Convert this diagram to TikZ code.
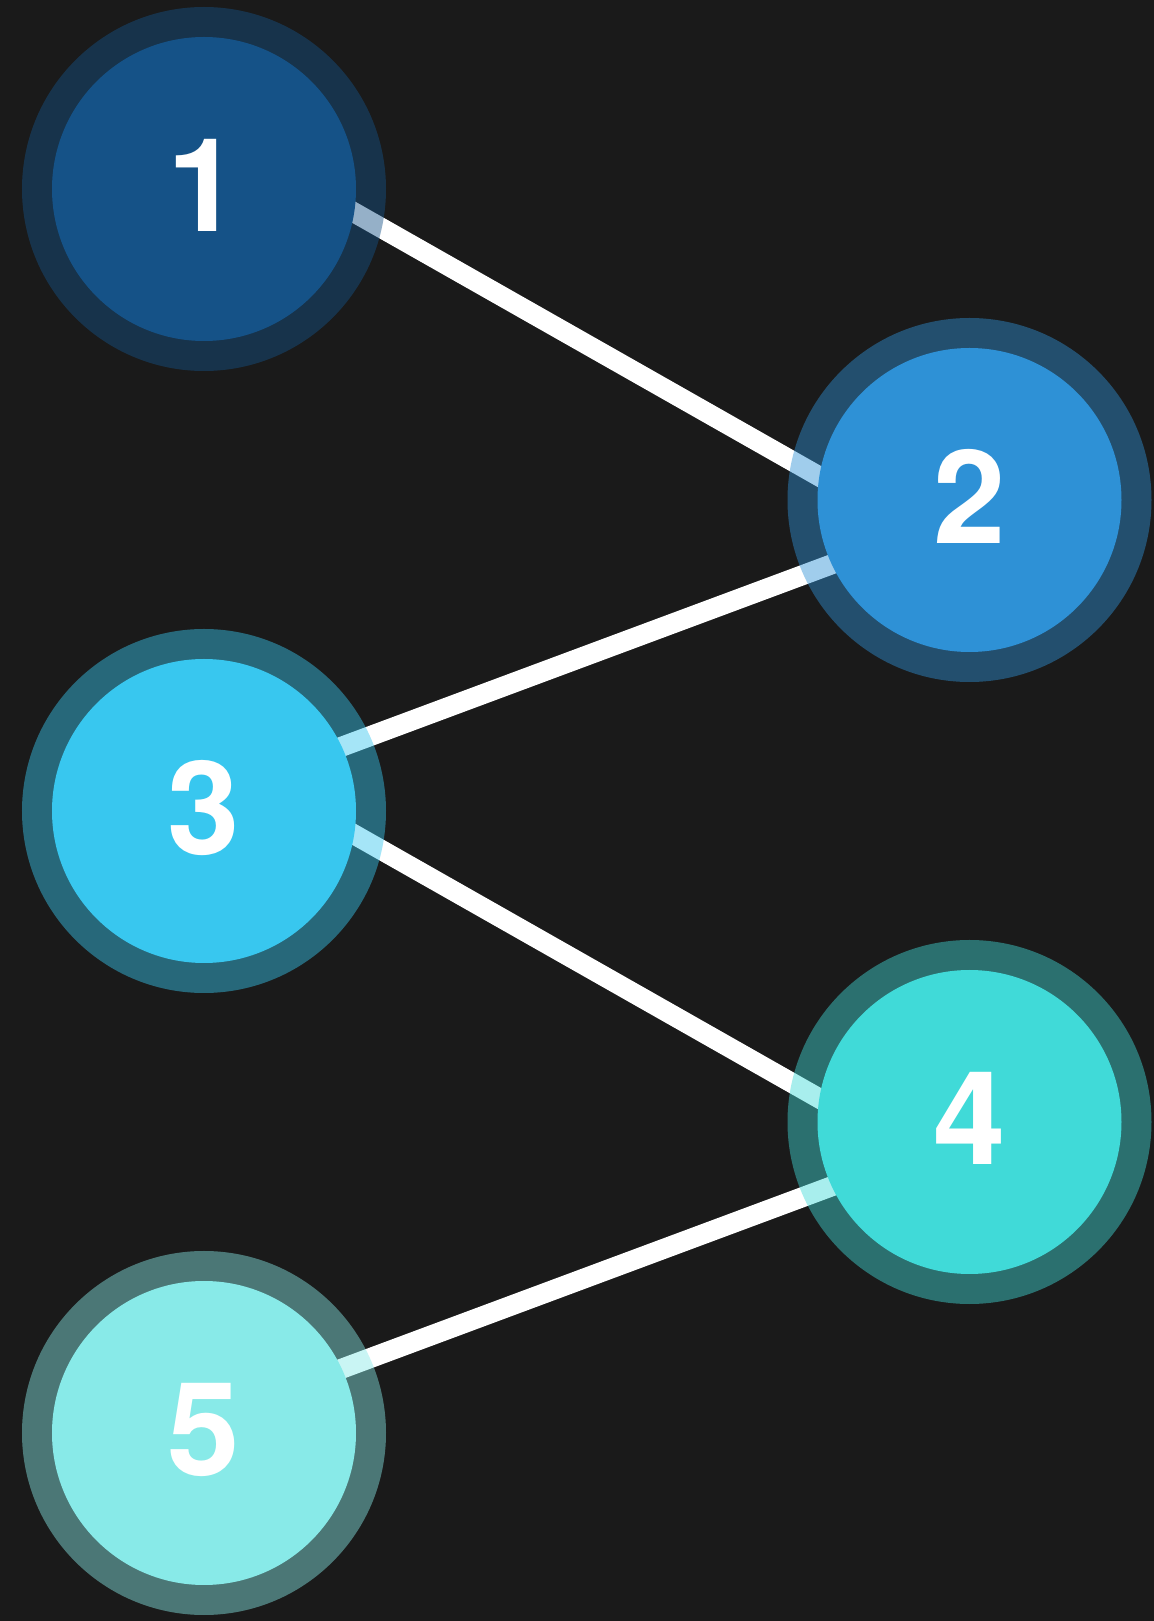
\documentclass[tikz,border=0pt]{standalone}
\usepackage{fontspec}
\setsansfont{TeX Gyre Heros}
\usepackage{tikz}

\definecolor{pagebg}{HTML}{1A1A1A}
\definecolor{nodeone}{HTML}{155287}
\definecolor{nodetwo}{HTML}{2E91D6}
\definecolor{nodethree}{HTML}{38C7EF}
\definecolor{nodefour}{HTML}{40DAD8}
\definecolor{nodefive}{HTML}{88EAE8}

\pgfdeclarelayer{back}
\pgfdeclarelayer{edges}
\pgfsetlayers{back,edges,main}

\begin{document}
\begin{tikzpicture}[x=1cm,y=1cm,
        vertex/.style={circle, fill=#1, inner sep=0pt, minimum size=3.04cm,
            text=white, font=\sffamily\bfseries\fontsize{37}{40}\selectfont,
            text depth=2.3pt,
            preaction={draw=#1, draw opacity=0.45, line width=0.6cm}},
        link/.style={draw=white, line width=0.2cm,
            shorten <=-0.3cm, shorten >=-0.3cm}]
            \useasboundingbox (0,0) rectangle (11.54,16.21);
            \begin{pgfonlayer}{back}
                \fill[pagebg] (0,0) rectangle (11.54,16.21);
            \end{pgfonlayer}

            \node[vertex=nodeone]   (n1) at (2.04,14.32) {1};
            \node[vertex=nodetwo]   (n2) at (9.695,11.21) {2};
            \node[vertex=nodethree] (n3) at (2.04,8.10) {3};
            \node[vertex=nodefour]  (n4) at (9.695,4.99) {4};
            \node[vertex=nodefive]  (n5) at (2.04,1.88) {5};

            \begin{pgfonlayer}{edges}
                \draw[link] (n1.-9) -- (n2.171);
                \draw[link] (n2.205) -- (n3.25);
                \draw[link] (n3.-9) -- (n4.171);
                \draw[link] (n4.205) -- (n5.25);
            \end{pgfonlayer}
        \end{tikzpicture}
\end{document}
